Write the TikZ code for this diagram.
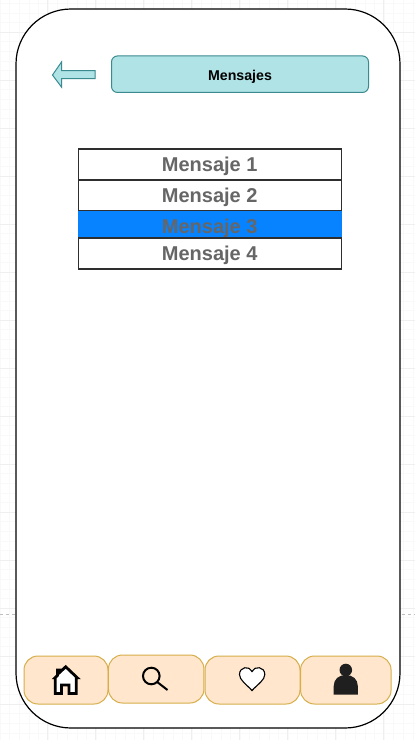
\documentclass[tikz,border=0pt]{standalone}
\usepackage{fontspec}
\setmainfont{Liberation Sans}
\usetikzlibrary{positioning}
\definecolor{gridline}{HTML}{EFEFEF}
\definecolor{gridfine}{HTML}{F9F9F9}
\definecolor{tealfill}{HTML}{B0E3E6}
\definecolor{tealline}{HTML}{3B8A90}
\definecolor{navfill}{HTML}{FFE6CC}
\definecolor{navline}{HTML}{D6AE4A}
\definecolor{msgtext}{HTML}{666666}
\definecolor{msgblue}{HTML}{0883FF}
\definecolor{rowline}{HTML}{2E2E2E}
\definecolor{personfill}{HTML}{1F1F1F}
\tikzset{x=1pt, y=-1pt, % Same units as the screenshot, y going down
every node/.style={outer sep=0pt, inner sep=0pt},
phone/.style={ % Outline of the device
draw=black, fill=white, line width=1.2pt, rounded corners=55pt},
titlebar/.style={
draw=tealline, fill=tealfill, line width=1pt, rounded corners=6pt,
minimum width=257pt, minimum height=36.5pt,
text height=11.6pt, text depth=0pt,
font=\fontsize{14.2}{16}\selectfont\bfseries},
msgrow/.style={ % One row of the list
draw=rowline, fill=white, line width=1.3pt, text=msgtext,
minimum width=263pt, minimum height=31pt,
text height=15pt, text depth=2pt,
font=\fontsize{20}{24}\selectfont\bfseries},
navbtn/.style={
draw=navline, fill=navfill, line width=1pt, rounded corners=14pt,
minimum height=48pt},
iconline/.style={draw=black, fill=white, line width=2.8pt, line join=miter}}

\begin{document}
\begin{tikzpicture}
    \useasboundingbox (0,0) rectangle (415,740);
    \fill[white] (0,0) rectangle (415,740);
    
    % paper grid behind the phone
    \foreach \gx in {0,...,43} \draw[gridfine, line width=.6pt] ({.1+9.6*\gx},0) -- ({.1+9.6*\gx},740);
    \foreach \gy in {0,...,77} \draw[gridfine, line width=.6pt] (0,{3.2+9.6*\gy}) -- (415,{3.2+9.6*\gy});
    \foreach \gx in {0,...,8} \draw[gridline, line width=.8pt] ({47.7+48*\gx},0) -- ({47.7+48*\gx},740);
    \foreach \gy in {0,...,14} \draw[gridline, line width=.8pt] (0,{32+48*\gy}) -- (415,{32+48*\gy});
    \draw[gray!50, dashed, line width=.5pt] (0,614) -- (415,614);
    
    \draw[phone] (16,9) rectangle (400,728);
    
    % top bar
    \node[titlebar] (title) at (240,74.2) {Mensajes};
    \draw[draw=tealline, fill=tealfill, line width=1pt, line join=miter]
        (52.5,75) -- (61.5,62) -- (61.5,70.5) -- (95,70.5) -- (95,78.5) -- (61.5,78.5) -- (61.5,87) -- cycle;
    
    % list of messages
    \node[msgrow] (msg1) at (209.7,164.5) {Mensaje 1};
    \node[msgrow, below=0pt of msg1] (msg2) {Mensaje 2};
    \node[msgrow, below=0pt of msg2, draw=none, fill=msgblue, minimum width=264.3pt, minimum height=27pt, text height=18pt, text depth=0pt] (msg3) {Mensaje 3};
    \node[msgrow, below=0pt of msg3] (msg4) {Mensaje 4};
    
    % bottom buttons
    \node[navbtn, minimum width=84pt] (home) at (66,680) {};
    \node[navbtn, minimum width=95.5pt] (search) at (156.2,679) {};
    \node[navbtn, minimum width=95pt] (fav) at (252.5,680) {};
    \node[navbtn, minimum width=90.5pt] (user) at (345.8,680) {};
    
    % icons
    \draw[iconline] (55,677.8) -- (57.5,675.3) -- (57.5,670) -- (60.3,670) -- (60.3,671.8) -- (65.7,666.8) -- (77.3,677.8) -- (76.3,677.8) -- (76.3,693.5) -- (69,693.5) -- (69,685) -- (61.4,685) -- (61.4,693.5) -- (55.3,693.5) -- (55.3,677.8) -- cycle;
    \draw[draw=black, line width=2pt] (151.3,676) circle (8.3);
    \draw[draw=black, line width=2pt] (157.2,682) -- (167.5,690);
    \draw[draw=black, fill=white, line width=1.1pt]
        (252,690.5) .. controls (246,684) and (239.5,680) .. (239.5,674.5)
        .. controls (239.5,666.5) and (249.5,665.5) .. (252,671.5)
        .. controls (254.5,665.5) and (264.8,666.5) .. (264.8,674.5)
        .. controls (264.8,680) and (258,684) .. (252,690.5) -- cycle;
    \fill[personfill] (345.8,670) circle (6.3);
    \fill[personfill] (333.7,694.7) -- (333.7,686)
        .. controls (333.7,679) and (339,675) .. (345.8,675)
        .. controls (352.5,675) and (357.8,679) .. (357.8,686) -- (357.8,694.7) -- cycle;
    
\end{tikzpicture}
\end{document}
